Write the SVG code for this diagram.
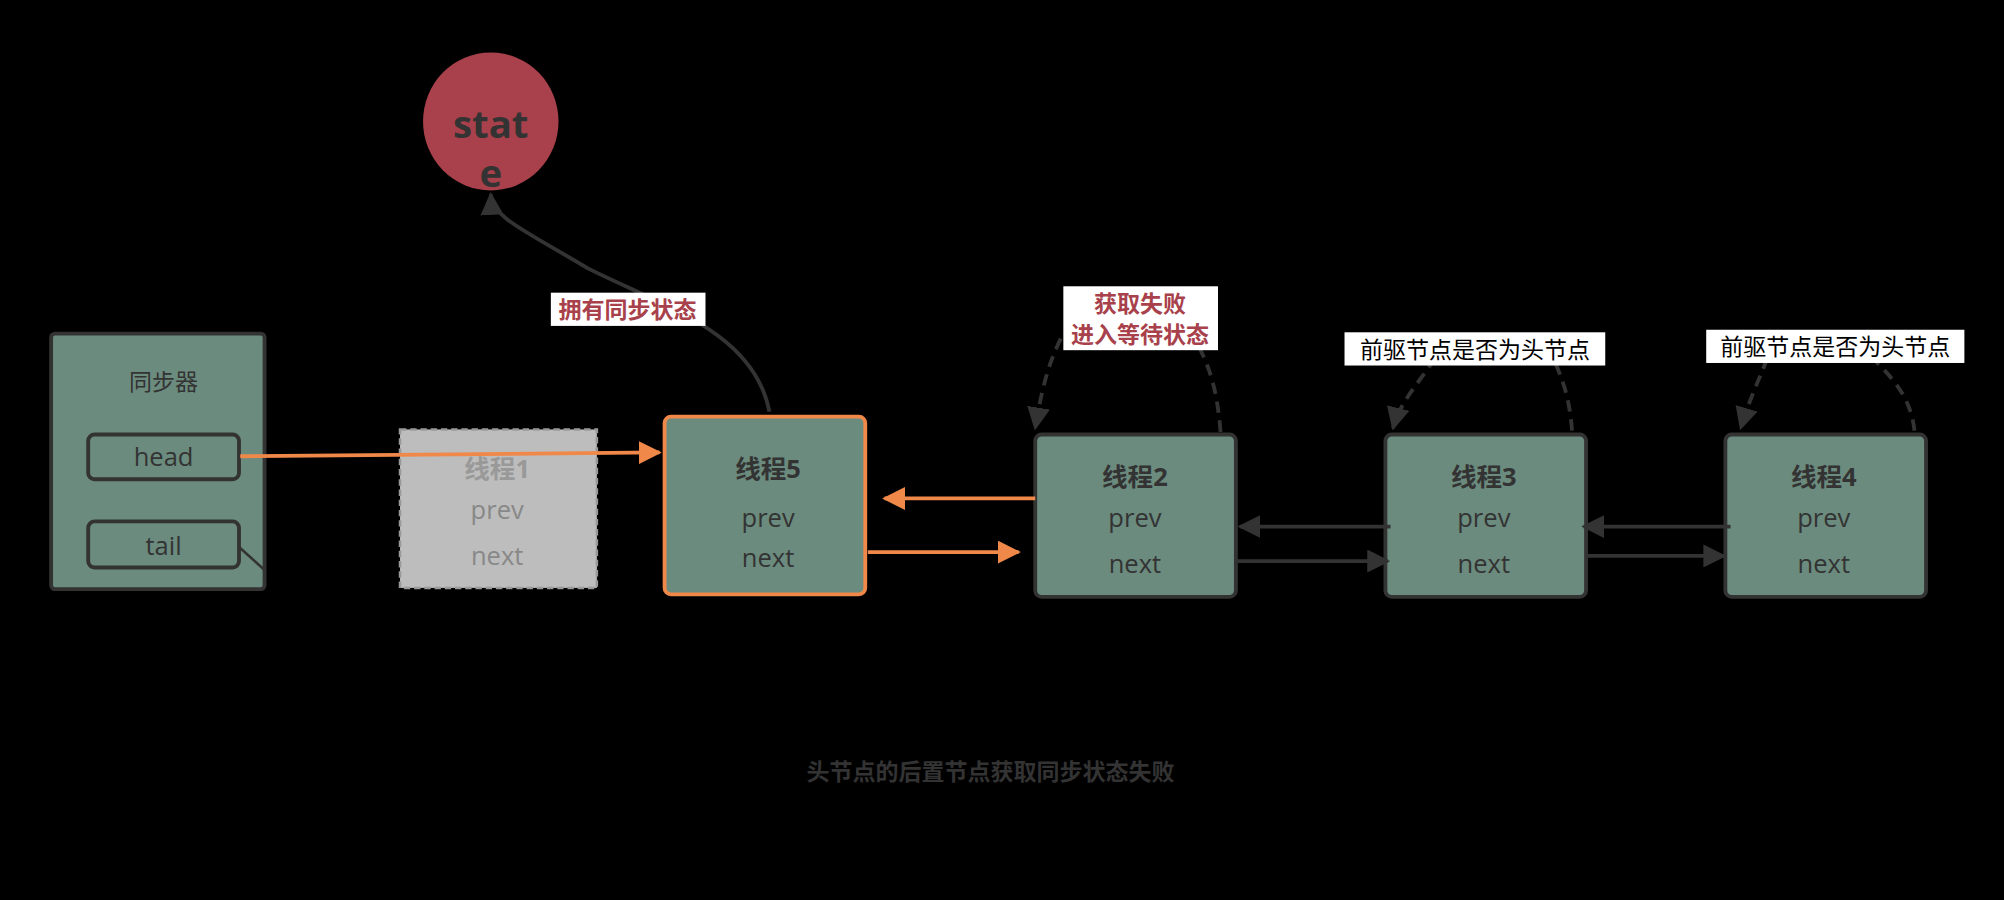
<svg xmlns="http://www.w3.org/2000/svg" width="2004" height="900" viewBox="0 0 2004 900">
<defs>
<style>
.node{fill:#6b8b7e;stroke:#333;stroke-width:3}
.t{font-family:"Open Sans","Noto Sans CJK SC",sans-serif;font-size:20px;fill:#333;text-anchor:middle}
.b{font-weight:bold}
.c{font-family:"Noto Sans CJK SC",sans-serif;font-size:18px;text-anchor:middle}
.dk{stroke:#333;stroke-width:3;fill:none}
.or{stroke:#f0884a;stroke-width:3;fill:none}
.ds{stroke:#333;stroke-width:3;fill:none;stroke-dasharray:9 6}
</style>
<marker id="ad" viewBox="0 0 10 10" refX="9" refY="5" markerWidth="6" markerHeight="6" orient="auto"><path d="M0,0L10,5L0,10z" fill="#333"/></marker>
<marker id="ao" viewBox="0 0 10 10" refX="9" refY="5" markerWidth="6" markerHeight="6" orient="auto"><path d="M0,0L10,5L0,10z" fill="#f0884a"/></marker>
</defs>
<rect width="2004" height="900" fill="#000"/>
<g transform="scale(1.27806)">
<g id="state"><ellipse cx="384" cy="95" rx="53" ry="54" fill="#a8414b"/><text class="t b" x="384" y="108" style="font-size:30px">stat</text><text class="t b" x="384" y="146" style="font-size:30px">e</text></g>
<g id="sync"><rect class="node" x="40" y="261" width="167" height="200" rx="3"/><text class="c" x="128" y="305" fill="#333">同步器</text>
<rect class="node" x="69" y="340" width="118" height="35" rx="5"/><text class="t" x="128" y="365">head</text>
<rect class="node" x="69" y="408" width="118" height="36" rx="5"/><text class="t" x="128" y="434">tail</text></g>
<g id="t1"><rect x="313" y="336" width="154" height="124" fill="#bdbdbd" stroke="#999" stroke-width="2" stroke-dasharray="5 3"/><text class="t b" x="389" y="374" fill="#999" style="fill:#999">线程1</text><text class="t" x="389" y="406" style="fill:#888">prev</text><text class="t" x="389" y="442" style="fill:#888">next</text></g>
<g id="t5"><rect x="520" y="326" width="157" height="139" rx="5" fill="#6b8b7e" stroke="#f0884a" stroke-width="3"/><text class="t b" x="601" y="374">线程5</text><text class="t" x="601" y="412">prev</text><text class="t" x="601" y="444">next</text></g>
<g id="t2"><rect class="node" x="810" y="340" width="157" height="127" rx="5"/><text class="t b" x="888" y="380">线程2</text><text class="t" x="888" y="412">prev</text><text class="t" x="888" y="448">next</text></g>
<g id="t3"><rect class="node" x="1084" y="340" width="157" height="127" rx="5"/><text class="t b" x="1161" y="380">线程3</text><text class="t" x="1161" y="412">prev</text><text class="t" x="1161" y="448">next</text></g>
<g id="t4"><rect class="node" x="1350" y="340" width="157" height="127" rx="5"/><text class="t b" x="1427" y="380">线程4</text><text class="t" x="1427" y="412">prev</text><text class="t" x="1427" y="448">next</text></g>
<g id="connectors">
<path class="or" d="M188,357L516,354" marker-end="url(#ao)"/>
<path class="dk" d="M187,428L207,446" style="stroke-width:2"/>
<path class="dk" d="M602,322C590,260 520,240 460,210C410,180 385,170 384,152" marker-end="url(#ad)"/>
<path class="or" d="M810,390L692,390" marker-end="url(#ao)"/>
<path class="or" d="M679,432L797,432" marker-end="url(#ao)"/>
<path class="dk" d="M1088,412L970,412" marker-end="url(#ad)"/>
<path class="dk" d="M968,439L1086,439" marker-end="url(#ad)"/>
<path class="dk" d="M1354,412L1239,412" marker-end="url(#ad)"/>
<path class="dk" d="M1242,435L1349,435" marker-end="url(#ad)"/>
<path class="ds" d="M955,338C952,300 945,285 935,265" />
<path class="ds" d="M830,265C820,285 815,305 810,335" marker-end="url(#ad)"/>
<path class="ds" d="M1230,337C1228,310 1222,295 1215,280"/>
<path class="ds" d="M1123,280C1110,300 1095,315 1090,335" marker-end="url(#ad)"/>
<path class="ds" d="M1498,337C1495,310 1480,295 1465,280"/>
<path class="ds" d="M1383,280C1375,300 1368,315 1362,335" marker-end="url(#ad)"/>
</g>
<g id="labels">
<rect x="431" y="229" width="121" height="26" fill="#fff"/><text class="c b" x="491" y="249" fill="#a8414b">拥有同步状态</text>
<rect x="832" y="224" width="121" height="50" fill="#fff"/><text class="c b" x="892" y="244" fill="#a8414b">获取失败</text><text class="c b" x="892" y="268" fill="#a8414b">进入等待状态</text>
<rect x="1052" y="260" width="204" height="26" fill="#fff"/><text class="c" x="1154" y="280" fill="#000">前驱节点是否为头节点</text>
<rect x="1335" y="258" width="202" height="26" fill="#fff"/><text class="c" x="1436" y="278" fill="#000">前驱节点是否为头节点</text>
<text class="c b" x="775" y="610" fill="#333">头节点的后置节点获取同步状态失败</text>
</g>
</g>
</svg>
